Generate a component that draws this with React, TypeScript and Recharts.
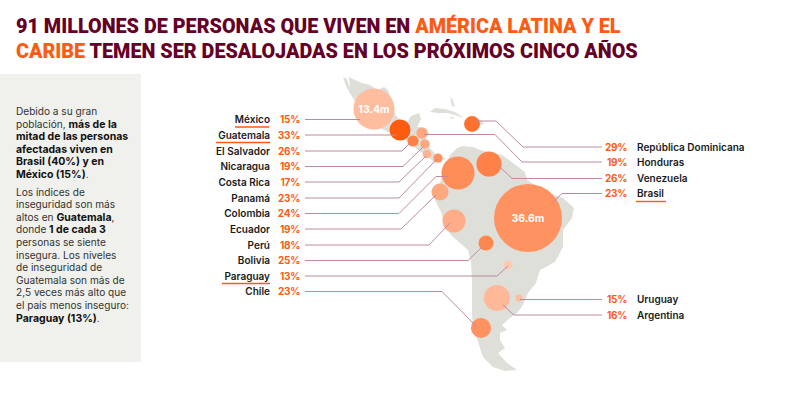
import { ScatterChart, Scatter, XAxis, YAxis, ZAxis, Cell } from 'recharts';

// bubbles: insecurity %, people affected (millions), position on the map
const bubbleCountries = ['México', 'Guatemala', 'Honduras', 'El Salvador', 'Nicaragua', 'Costa Rica', 'Panamá', 'Colombia', 'República Dominicana', 'Venezuela', 'Brasil', 'Ecuador', 'Perú', 'Bolivia', 'Paraguay', 'Uruguay', 'Argentina', 'Chile'];
const bubblePct = [15, 33, 19, 26, 19, 17, 23, 24, 29, 26, 23, 19, 18, 25, 13, 15, 16, 23];
const bubbleMillions = [13.4, 3.5, 1.0, 1.0, 0.7, 0.6, 0.65, 8.7, 2.0, 5.0, 36.6, 2.3, 4.2, 1.8, 0.6, 0.4, 5.4, 3.2];
const bubbleX = [374, 400, 422, 413, 425, 427, 438, 458, 472, 489, 528, 440, 454, 486, 508, 519, 497, 481];
const bubbleY = [109, 130, 133, 141, 144, 154, 158, 173, 124, 164, 218, 192, 221, 243, 265, 298, 298, 328];

const leftNames = ['México', 'Guatemala', 'El Salvador', 'Nicaragua', 'Costa Rica', 'Panamá', 'Colombia', 'Ecuador', 'Perú', 'Bolivia', 'Paraguay', 'Chile'];
const leftPct = ['15%', '33%', '26%', '19%', '17%', '23%', '24%', '19%', '18%', '25%', '13%', '23%'];
const leftY = [119.5, 135, 151, 166.5, 182, 198, 213.5, 229, 245, 260.5, 276, 291.5];
const rightNames = ['República Dominicana', 'Honduras', 'Venezuela', 'Brasil', 'Uruguay', 'Argentina'];
const rightPct = ['29%', '19%', '26%', '23%', '15%', '16%'];
const rightY = [147, 162, 178.5, 193.5, 299.5, 315];

const leaders = [
  [[305, 119.5], [360, 119.5]],
  [[305, 135], [396, 135]],
  [[305, 151], [402, 151], [409, 144]],
  [[305, 166.5], [403, 166.5], [423, 147]],
  [[305, 182], [399, 182], [426, 156]],
  [[305, 198], [399, 198], [437, 159]],
  [[305, 213.5], [399, 213.5], [436, 176.5], [448, 176.5]],
  [[305, 229], [401, 229], [436, 195]],
  [[305, 245], [429, 245], [450, 223]],
  [[305, 260.5], [468, 260.5], [483, 246]],
  [[305, 276], [497, 276], [508, 266]],
  [[305, 291.5], [442, 291.5], [477, 327]],
  [[476, 121], [496, 121], [523, 147], [602, 147]],
  [[424, 134.5], [495, 134.5], [522, 162], [602, 162]],
  [[498, 165], [512, 178.5], [602, 178.5]],
  [[551, 204], [562, 193.5], [602, 193.5]],
  [[520, 299.5], [602, 299.5]],
  [[503, 305], [514, 315], [602, 315]],
];

const underlines = [
  [[235, 127], [269, 127]],
  [[216, 142.5], [270, 142.5]],
  [[222, 283.5], [270, 283.5]],
  [[636, 201.5], [666, 201.5]],
];

// map outline
const baja = [[343, 77], [347, 79], [350, 88], [356, 96], [361, 103], [357, 103], [351, 95], [346, 86]];
const mainlandNorth = [[349, 77], [355, 80], [362, 83], [370, 85], [378, 90], [384, 87], [388, 90], [390, 97], [392, 106], [396, 116], [402, 121], [408, 121], [411, 116], [419, 113], [421, 119], [417, 127], [423, 127], [429, 133], [425, 140], [430, 148], [436, 155], [446, 158], [440, 163], [434, 162], [428, 157], [418, 150], [407, 141], [390, 133], [378, 127], [362, 118], [354, 100], [350, 88]];
const cuba = [[430, 112], [435, 108], [445, 109], [455, 112], [464, 118], [458, 116], [448, 113], [438, 113]];
const hispaniola = [[464, 120], [480, 119], [484, 124], [470, 128]];
const jamaica = [[449, 117], [454, 117], [453, 119]];
const bahamas = [[450, 97], [453, 100], [455, 107], [452, 106]];
const southAmerica = [[450, 155], [457, 148], [462, 146], [473, 147], [480, 150], [502, 155], [513, 163], [525, 172], [527, 180], [548, 193], [563, 198], [574, 208], [572, 218], [563, 230], [563, 247], [555, 262], [540, 270], [536, 283], [528, 293], [523, 305], [517, 313], [510, 318], [502, 325], [507, 330], [500, 333], [500, 340], [505, 348], [498, 353], [507, 363], [517, 370], [505, 371], [493, 367], [483, 357], [478, 342], [473, 327], [472, 313], [472, 283], [471, 262], [468, 250], [453, 237], [445, 228], [441, 212], [435, 200], [437, 190], [441, 180], [445, 165]];

const MAP_SHAPES = [baja, mainlandNorth, cuba, hispaniola, jamaica, bahamas, southAmerica];

const toPoints = (pairs: number[][]) => pairs.map(([x, y]) => ({ x, y }));

const bubbleData = bubbleCountries.map((name, i) => ({
  name,
  pct: bubblePct[i],
  z: bubbleMillions[i],
  x: bubbleX[i],
  y: bubbleY[i],
}));

const leftRows = leftNames.map((name, i) => ({ name, pct: leftPct[i], y: leftY[i] }));
const rightRows = rightNames.map((name, i) => ({ name, pct: rightPct[i], y: rightY[i] }));

const bubbleFill = (pct: number) => {
  const t = (pct - 13) / 20;
  const mix = (a: number, b: number) => Math.round(a + (b - a) * t);
  return `rgb(${mix(255, 253)},${mix(200, 92)},${mix(176, 16)})`;
};

const LABEL_FONT = 'Inter, sans-serif';
const noShape = () => null;

const MapPolygon = (props: any) => (
  <polygon points={props.points.map((p: any) => `${p.x},${p.y}`).join(' ')} fill="#dfdfd9" />
);

const makeLabel = (rows: any[], nameX: number, pctX: number, anchor: 'start' | 'end') =>
  rows.map((r) => ({ ...r, nameX, pctX, anchor }));

const NameText = (p: any) => (
  <text x={p.payload.nameX} y={p.cy} dy={3.8} textAnchor={p.payload.anchor} fontFamily={LABEL_FONT} fontSize={10} fontWeight={600} fill="#1a1a1a">
    {p.payload.name}
  </text>
);

const PctText = (p: any) => (
  <text x={p.payload.pctX} y={p.cy} dy={3.8} textAnchor="end" fontFamily={LABEL_FONT} fontSize={10} fontWeight={700} letterSpacing={-0.3} fill="#ff5a14">
    {p.payload.pct}
  </text>
);

const BubbleValue = (p: any) => (
  <text x={p.cx} y={p.cy} dy={4} textAnchor="middle" fontFamily={LABEL_FONT} fontSize={10.5} fontWeight={700} fill="#ffffff">
    {p.payload.label}
  </text>
);

const labelRows = [
  ...makeLabel(leftRows, 270, 300, 'end'),
  ...makeLabel(rightRows, 637, 627, 'start'),
].map((r) => ({ ...r, x: r.nameX }));

const bubbleLabels = [
  { x: 374, y: 109, label: '13.4m' },
  { x: 528, y: 218, label: '36.6m' },
];

const strong = { fontWeight: 700, color: '#111', fontSize: 10.5, lineHeight: 0 };

export default function App() {
  return (
    <div style={{ position: 'absolute', left: 0, top: 0, width: 800, height: 400, background: '#fff', overflow: 'hidden' }}>
      <div style={{ position: 'absolute', left: 16, top: 14, width: 700, fontFamily: 'Roboto, sans-serif', fontWeight: 900, fontSize: 19.8, lineHeight: '25px', color: '#650027', whiteSpace: 'nowrap' }}>
        91 MILLONES DE PERSONAS QUE VIVEN EN <span style={{ color: '#ff5a14' }}>AMÉRICA LATINA Y EL</span>
        <br />
        <span style={{ color: '#ff5a14' }}>CARIBE</span> TEMEN SER DESALOJADAS EN LOS PRÓXIMOS CINCO AÑOS
      </div>
      <div style={{ position: 'absolute', left: 0, top: 74, width: 141, height: 288, background: '#f0f0ec' }} />
      <div style={{ position: 'absolute', left: 16, top: 105, fontFamily: LABEL_FONT, fontSize: 10.1, lineHeight: '12.6px', color: '#333', whiteSpace: 'nowrap' }}>
        Debido a su gran<br />
        población, <span style={strong}>más de la</span><br />
        <span style={strong}>mitad de las personas</span><br />
        <span style={strong}>afectadas viven en</span><br />
        <span style={strong}>Brasil (40%) y en</span><br />
        <span style={strong}>México (15%)</span>.
        <div style={{ height: 5 }} />
        Los índices de<br />
        inseguridad son más<br />
        altos en <span style={strong}>Guatemala</span>,<br />
        donde <span style={strong}>1 de cada 3</span><br />
        personas se siente<br />
        insegura. Los niveles<br />
        de inseguridad de<br />
        Guatemala son más de<br />
        2,5 veces más alto que<br />
        el país menos inseguro:<br />
        <span style={strong}>Paraguay (13%)</span>.
      </div>
      <div style={{ position: 'absolute', left: 0, top: 0 }}>
        <ScatterChart width={800} height={400} margin={{ top: 0, right: 0, bottom: 0, left: 0 }}>
          <XAxis type="number" dataKey="x" domain={[0, 800]} hide />
          <YAxis type="number" dataKey="y" domain={[0, 400]} reversed hide />
          <ZAxis type="number" dataKey="z" domain={[0, 36.6]} range={[0, 3632]} />
          {MAP_SHAPES.map((shape, i) => (
            <Scatter key={i} data={toPoints(shape)} line={MapPolygon} shape={noShape} isAnimationActive={false} />
          ))}
          <Scatter data={bubbleData} isAnimationActive={false}>
            {bubbleData.map((d) => (
              <Cell key={d.name} fill={bubbleFill(d.pct)} />
            ))}
          </Scatter>
          {leaders.map((pts, i) => (
            <Scatter key={i} data={toPoints(pts)} line={{ stroke: '#bd8aa0', strokeWidth: 1 }} shape={noShape} isAnimationActive={false} />
          ))}
          {underlines.map((pts, i) => (
            <Scatter key={i} data={toPoints(pts)} line={{ stroke: '#ff5a14', strokeWidth: 1.4 }} shape={noShape} isAnimationActive={false} />
          ))}
          <Scatter data={labelRows} shape={NameText} isAnimationActive={false} />
          <Scatter data={labelRows} shape={PctText} isAnimationActive={false} />
          <Scatter data={bubbleLabels} shape={BubbleValue} isAnimationActive={false} />
        </ScatterChart>
      </div>
    </div>
  );
}
